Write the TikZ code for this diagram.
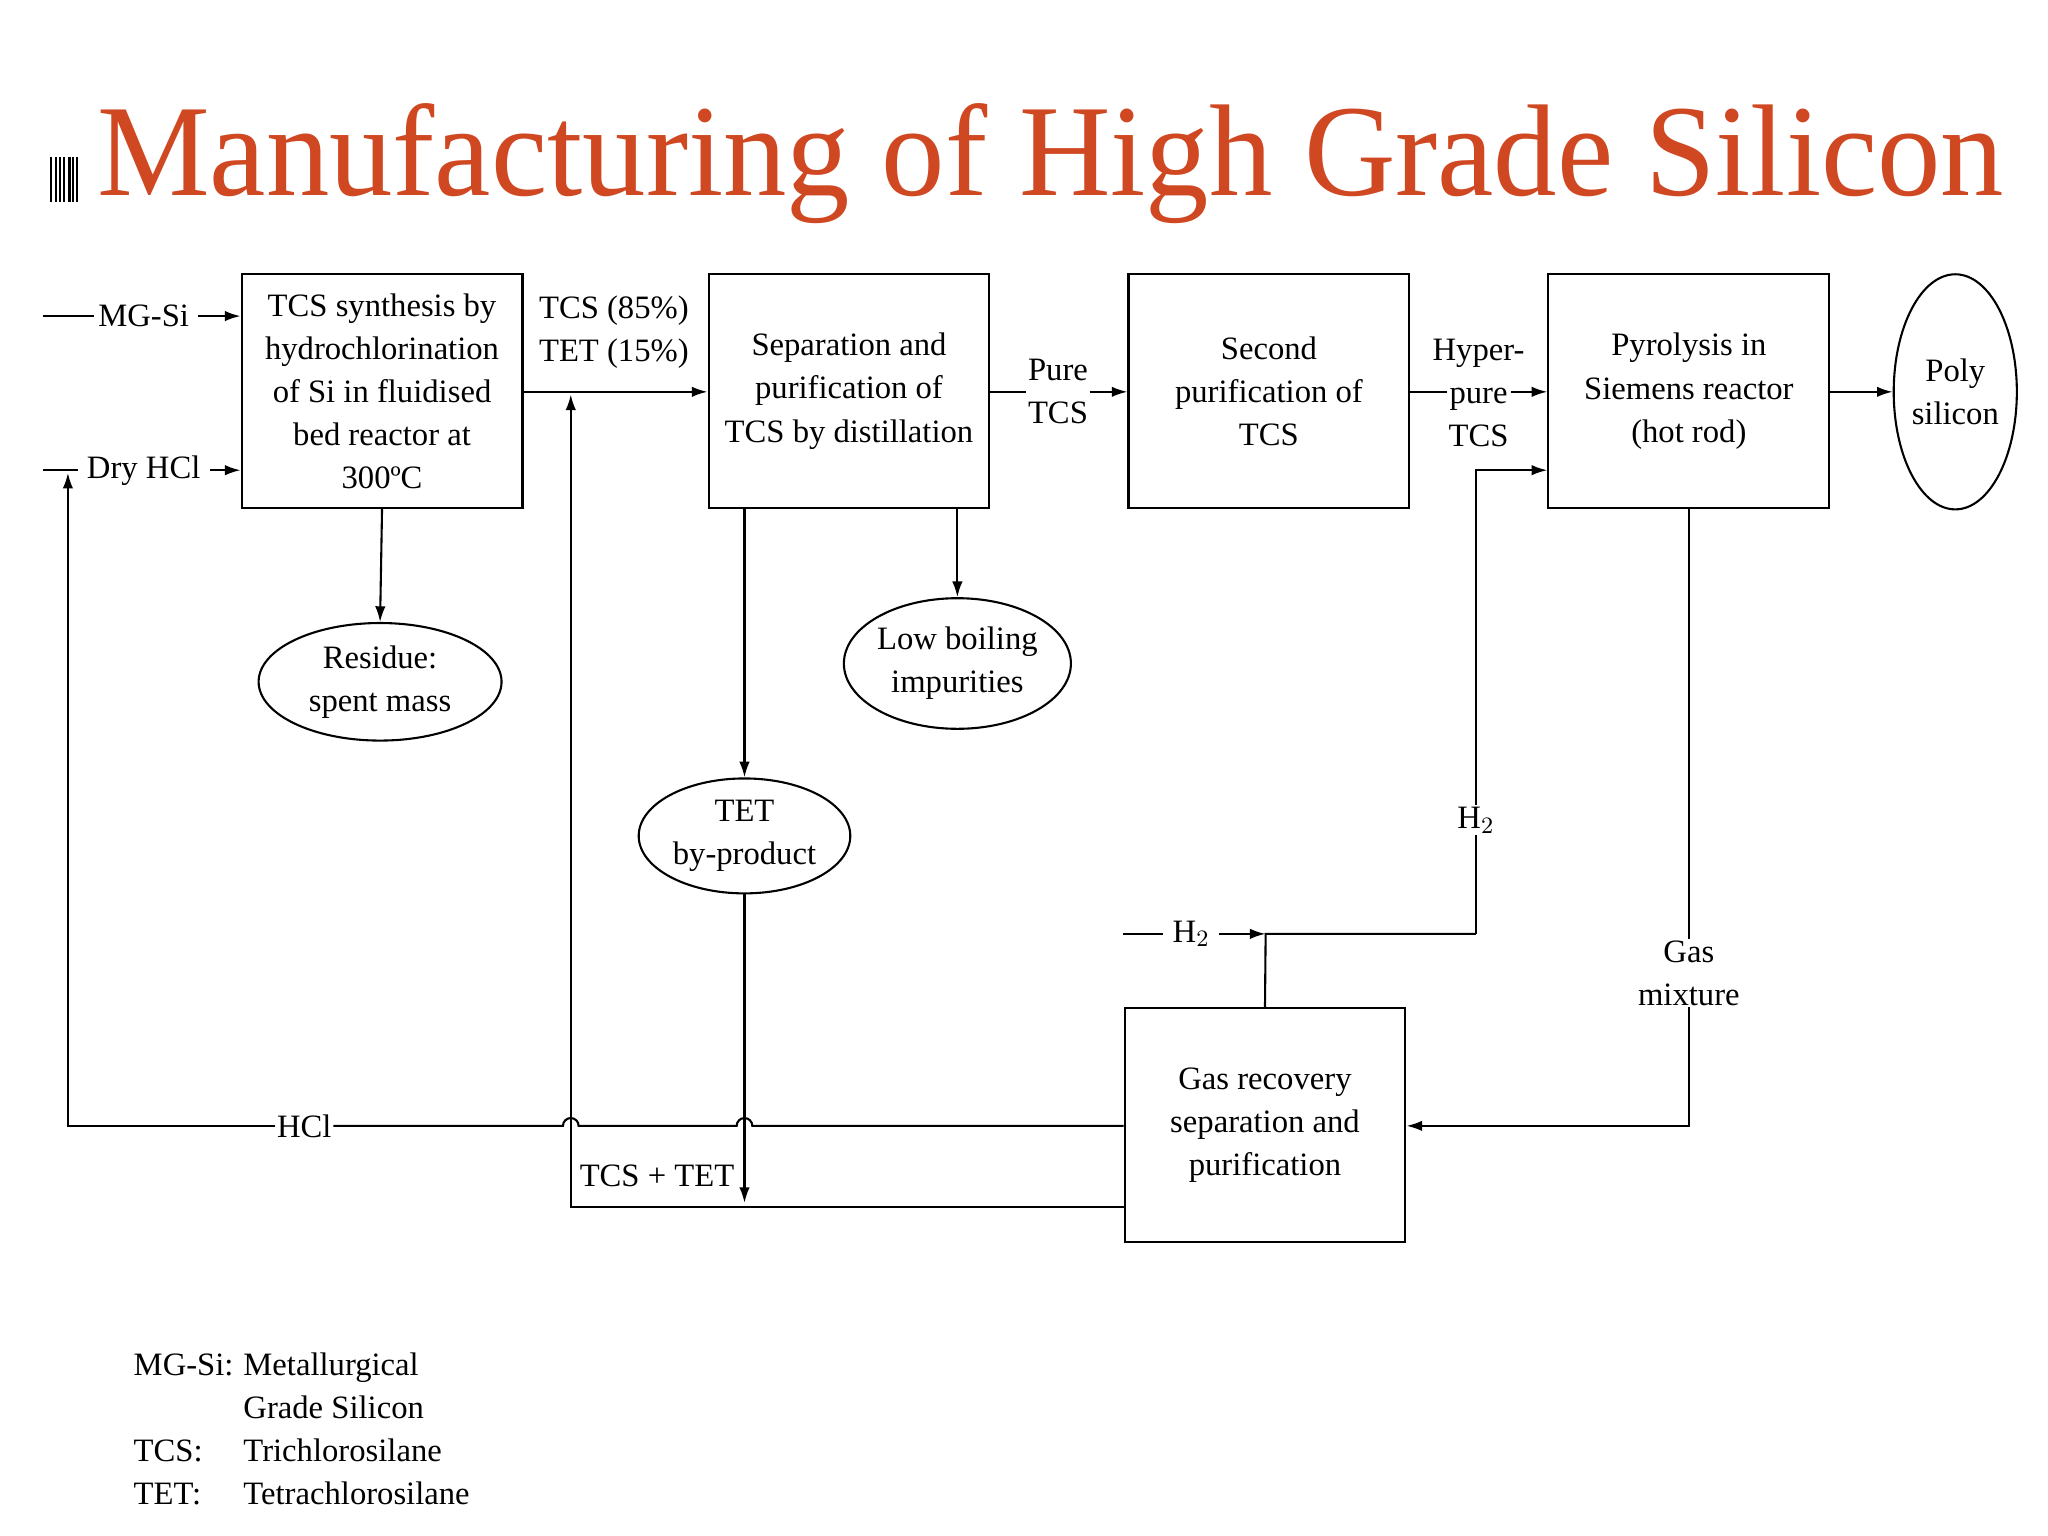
\documentclass[tikz,border=0pt]{standalone}
\usepackage{fontspec}
\setmainfont{Liberation Serif}
\usetikzlibrary{arrows.meta,shapes.geometric}
\definecolor{titlec}{RGB}{207,72,34}
\begin{document}
\begin{tikzpicture}[x=0.5pt,y=-0.5pt,
  every node/.style={font=\fontsize{12.5}{16.5}\selectfont},
  boxn/.style={draw,thick,minimum width=107.5pt,minimum height=89.5pt,align=center,inner sep=1pt},
  ell/.style={draw,thick,ellipse,align=center,inner sep=0pt},
  lab/.style={fill=white,inner sep=0.5pt,align=center},
  line/.style={thick},
  arr/.style={thick,-{Latex[length=6pt,width=4pt]}}]
\useasboundingbox (0,0) rectangle (1568,1176);
\fill[white] (0,0) rectangle (1568,1176);
% title
\node[anchor=base west,text=titlec,inner sep=0] (title) at (74,150) {\scalebox{0.97}[1]{\fontsize{50}{55}\selectfont Manufacturing of High Grade Silicon}};
\foreach \xx in {38,42,45,48,52,55,58} \fill[black] (\xx,120) rectangle ++(2,35);
% boxes
\node[boxn] (b1) at (292.5,299.5) {TCS synthesis by\\hydrochlorination\\of Si in fluidised\\bed reactor at\\300ºC};
\node[boxn] (b2) at (650,299.5) {Separation and\\purification of\\TCS by distillation};
\node[boxn] (b3) at (971.5,299.5) {Second\\purification of\\TCS};
\node[boxn] (b4) at (1293,299.5) {Pyrolysis in\\Siemens reactor\\(hot rod)};
\node[boxn] (b5) at (968.5,861.5) {Gas recovery\\separation and\\purification};
\node[ell,minimum width=45pt,minimum height=90pt] (poly) at (1497,300) {Poly\\silicon};
\node[ell,minimum width=93pt,minimum height=45pt] (res) at (291,522) {Residue:\\spent mass};
\node[ell,minimum width=81pt,minimum height=50pt] (low) at (733,508) {Low boiling\\impurities};
\node[ell,minimum width=81pt,minimum height=44pt] (tet) at (570,640) {TET\\by-product};
% inputs
\coordinate (m0) at (33,242); \coordinate (d0) at (33,360);
\draw[line] (m0) -- (72,242);
\node (mg) at (110,242) {MG-Si};
\draw[arr] (mg.east) -- (b1.west|-mg);
\node (dh) at (110,360) {Dry HCl};
\draw[line] (d0) -- (dh.west);
\draw[arr] (dh.east) -- (b1.west|-dh);
% box1 -> box2
\draw[arr] (b1.east|-0,300) -- (b2.west|-0,300);
\node[align=left] (tcsl) at (470,254) {TCS (85\%)\\TET (15\%)};
% residue
\draw[arr] (b1.south) -- (res.north);
% box2 outputs
\draw[arr] (b2.south-|tet) -- (tet.north);
\draw[arr] (b2.south-|low) -- (low.north);
% box2 -> box3
\node[lab] (pt) at (810,300) {Pure\\TCS};
\draw[line] (b2.east|-0,300) -- (pt.west);
\draw[arr] (pt.east) -- (b3.west|-0,300);
\node[align=center,inner sep=0] (hp) at (1132,301) {Hyper-\\pure\\TCS};
\coordinate (hpl) at (1108,300); \coordinate (hpr) at (1157,300);
\draw[line] (b3.east|-0,300) -- (hpl);
\draw[arr] (hpr) -- (b4.west|-0,300);
\draw[arr] (b4.east|-0,300) -- (poly.west);
% H2
\coordinate (hj) at (969,715);
\coordinate (h0) at (860,715);
\node (h2a) at (912,715) {H$_2$};
\draw[line] (h0) -- (h2a.west);
\draw[arr] (h2a.east) -- (hj);
\draw[line] (b5.north) -- (hj) -- (1130,715);
\node[lab] (h2b) at (1130,628) {H$_2$};
\draw[line] (1130,715) -- (h2b.south);
\draw[arr] (h2b.north) -- (1130,360) -- (b4.west|-0,360);
% gas mixture
\node[lab] (gm) at (1293,745) {Gas\\mixture};
\draw[line] (b4.south) -- (gm.north);
\draw[arr] (gm.south) -- (1293,862) -- (b5.east|-0,862);
% HCl loop
\node[lab] (hcl) at (233,862) {HCl};
\draw[line] (b5.west|-0,862) -- (576,862) arc (0:-180:6) -- (443,862) arc (0:-180:6) -- (hcl.east);
\draw[arr] (hcl.west) -- (52,862) -- (52,362);
% TCS+TET
\draw[arr] (b5.west|-0,924) -- (437,924) -- (437,302);
\draw[arr] (tet.south) -- (570,921);
\node (tt) at (503,900) {TCS + TET};
% legend
\node[anchor=base west,inner sep=0] (l1) at (102,1053) {MG-Si:};
\node[anchor=base west,inner sep=0] (l1b) at (186,1053) {Metallurgical};
\node[anchor=base west,inner sep=0] (l2b) at (186,1086) {Grade Silicon};
\node[anchor=base west,inner sep=0] (l3) at (102,1119) {TCS:};
\node[anchor=base west,inner sep=0] (l3b) at (186,1119) {Trichlorosilane};
\node[anchor=base west,inner sep=0] (l4) at (102,1152) {TET:};
\node[anchor=base west,inner sep=0] (l4b) at (186,1152) {Tetrachlorosilane};
\end{tikzpicture}
\end{document}
